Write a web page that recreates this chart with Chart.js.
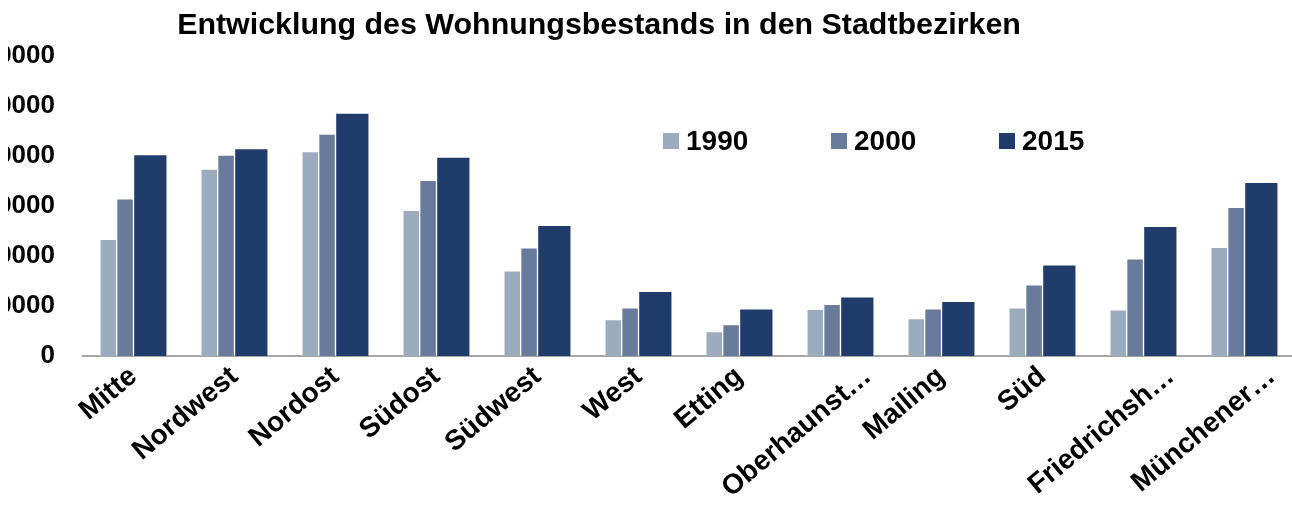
<!DOCTYPE html>
<html lang="de">
<head>
<meta charset="utf-8">
<script src="https://cdn.jsdelivr.net/npm/chart.js@4/dist/chart.umd.min.js"></script>
<style>
  html, body { margin: 0; padding: 0; background: #fff; overflow: hidden; width: 1292px; height: 506px; }
  #wrap { position: absolute; left: 0; top: 0; width: 1295px; height: 506px; }
  #title { position: absolute; left: 0; top: 8px; width: 1198px; text-align: center;
           font: bold 30.4px "Liberation Sans", Arial, sans-serif; line-height: 30px; color: #000; white-space: nowrap; }
  #legend { position: absolute; left: 663px; top: 127px; display: flex; }
  .item { display: flex; align-items: center; width: 168px; font: bold 28px "Liberation Sans", Arial, sans-serif;
          line-height: 28px; color: #000; }
  .box { width: 16px; height: 16px; margin-right: 7px; flex: none; }
</style>
</head>
<body>
<div id="wrap"><canvas id="c" width="1295" height="506"></canvas></div>
<div id="title">Entwicklung des Wohnungsbestands in den Stadtbezirken</div>
<div id="legend"></div>
<script>
// ---- data ----
const categories = ["Mitte", "Nordwest", "Nordost", "Südost", "Südwest", "West", "Etting",
                    "Oberhaunstadt", "Mailing", "Süd", "Friedrichshofen", "Münchener Straße"];
const tickLabels = ["Mitte", "Nordwest", "Nordost", "Südost", "Südwest", "West", "Etting",
                    "Oberhaunst…", "Mailing", "Süd", "Friedrichsh…", "Münchener…"];
const seriesNames = ["1990", "2000", "2015"];
const values1990 = [23300, 37300, 40800, 29100, 17000, 7250, 4900, 9300, 7450, 9600, 9200, 21700];
const values2000 = [31400, 40100, 44300, 35100, 21600, 9600, 6250, 10300, 9400, 14200, 19400, 29700];
const values2015 = [40200, 41400, 48500, 39700, 26100, 12900, 9400, 11800, 10900, 18200, 25900, 34700];
const yTicks = [0, 10000, 20000, 30000, 40000, 50000, 60000];

// ---- styles ----
const colors = ["#9aacbe", "#687b9b", "#1f3c6b"];
const groupOffsets = [-0.25, -1 / 12, 1 / 6];   // position of each series inside a category
const thickness = [16.8, 16.8, 33.6];
const ellipsisShift = 0.27;                      // truncated labels hang their "…" past the tick
const allValues = [values1990, values2000, values2015];

const datasets = seriesNames.map((name, s) => ({
  label: name,
  data: allValues[s].map((v, i) => ({ x: i + groupOffsets[s], y: v })),
  backgroundColor: colors[s],
  borderColor: "rgba(255,255,255,0.35)",
  borderWidth: { top: 1, left: 1, right: 1, bottom: 0 },
  barThickness: thickness[s],
  grouped: false
}));

// HTML legend from datasets
const legend = document.getElementById("legend");
datasets.forEach(d => {
  const it = document.createElement("div"); it.className = "item";
  const b = document.createElement("span"); b.className = "box"; b.style.background = d.backgroundColor;
  const t = document.createElement("span"); t.textContent = d.label;
  it.appendChild(b); it.appendChild(t); legend.appendChild(it);
});

const clipLeft = {
  id: "clipLeft",
  beforeDraw(chart) { const c = chart.ctx; c.save(); c.beginPath(); c.rect(8, 0, chart.width, chart.height); c.clip(); },
  afterDraw(chart) { chart.ctx.restore(); }
};

const boldFont = size => ({ family: '"Liberation Sans", Arial, sans-serif', size, weight: "bold" });

new Chart(document.getElementById("c"), {
  type: "bar",
  data: { datasets },
  plugins: [clipLeft],
  options: {
    responsive: false,
    animation: false,
    devicePixelRatio: 1,
    layout: { padding: { top: 55.5, left: 0, right: 0, bottom: 0 } },
    plugins: { legend: { display: false }, title: { display: false }, tooltip: { enabled: false } },
    scales: {
      x: {
        type: "linear",
        offset: false,
        min: -0.5, max: 11.5,
        grid: { display: false, drawTicks: false, offset: false },
        border: { display: true, color: "#a6a6a6", width: 2 },
        afterBuildTicks: axis => {
          axis.ticks = tickLabels.map((t, i) => ({ value: i + (t.endsWith("…") ? ellipsisShift : 0) }));
        },
        afterFit: scale => { scale.height = 150; scale.paddingLeft = 0; scale.paddingRight = 0; },
        ticks: {
          autoSkip: false, minRotation: 40, maxRotation: 40, padding: 4,
          color: "#000", font: boldFont(28),
          callback: (v, i) => tickLabels[i]
        }
      },
      y: {
        min: 0, max: 60000,
        afterBuildTicks: axis => { axis.ticks = yTicks.map(v => ({ value: v })); },
        afterFit: scale => { scale.width = 83; scale.paddingTop = 0; scale.paddingBottom = 0; },
        grid: { display: false, drawTicks: false },
        border: { display: false },
        ticks: { padding: 28, color: "#000", font: boldFont(26), callback: v => String(v) }
      }
    }
  }
});
</script>
</body>
</html>
